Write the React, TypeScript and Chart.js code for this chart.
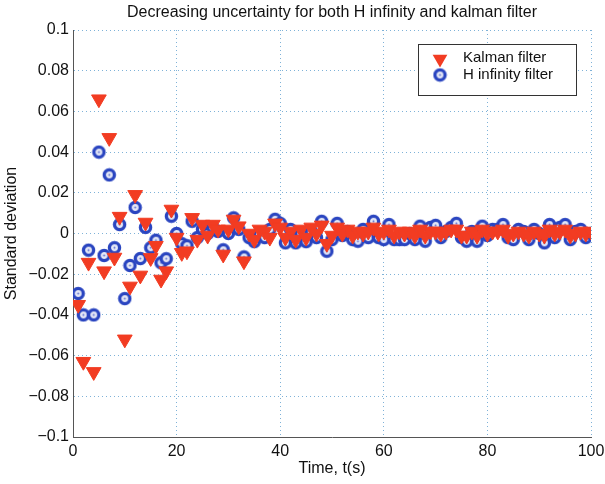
import React, { useEffect, useRef } from "react";
import { Chart, registerables } from "chart.js";
Chart.register(...registerables);

const TITLE = "Decreasing uncertainty for both H infinity and kalman filter";
const X_LABEL = "Time, t(s)";
const Y_LABEL = "Standard deviation";
const LEGEND_LABELS = ["Kalman filter", "H infinity filter"];

const times = [
  1, 2, 3, 4, 5, 6, 7, 8, 9, 10, 11, 12, 13, 14, 15, 16, 17, 18, 19, 20,
  21, 22, 23, 24, 25, 26, 27, 28, 29, 30, 31, 32, 33, 34, 35, 36, 37, 38, 39, 40,
  41, 42, 43, 44, 45, 46, 47, 48, 49, 50, 51, 52, 53, 54, 55, 56, 57, 58, 59, 60,
  61, 62, 63, 64, 65, 66, 67, 68, 69, 70, 71, 72, 73, 74, 75, 76, 77, 78, 79, 80,
  81, 82, 83, 84, 85, 86, 87, 88, 89, 90, 91, 92, 93, 94, 95, 96, 97, 98, 99, 100,
];

const kalman = [
  -0.035, -0.063, -0.0143, -0.068, 0.066, -0.0185, 0.047, -0.0118, 0.0083, -0.052,
  -0.026, 0.019, -0.0206, 0.0054, -0.012, -0.006, -0.0226, -0.0185, 0.0118, -0.002,
  -0.0095, -0.0087, 0.0077, -0.003, 0.0044, -0.001, 0.0044, 0.002, -0.0103, 0.002,
  0.0069, 0.0036, -0.0136, 0.0, -0.003, 0.002, 0.001, -0.002, 0.005, 0.003,
  -0.002, 0.001, -0.003, 0.002, -0.002, 0.003, 0.0, 0.004, -0.005, -0.001,
  0.003, 0.0, 0.002, -0.001, 0.001, 0.0, 0.001, 0.003, 0.0, 0.001,
  0.002, -0.001, 0.001, 0.0, 0.001, -0.001, 0.002, -0.001, 0.001, 0.001,
  0.0, 0.001, 0.002, 0.002, -0.001, -0.001, 0.001, -0.001, 0.002, 0.0,
  0.001, 0.001, 0.002, -0.001, 0.0, 0.001, 0.0, -0.001, 0.001, 0.0,
  -0.001, 0.002, 0.0, 0.001, 0.002, -0.001, 0.0, 0.001, 0.0, 0.001,
];

const hInfinity = [
  -0.0295, -0.04, -0.0082, -0.04, 0.04, -0.0108, 0.0288, -0.007, 0.0044, -0.032,
  -0.0157, 0.0128, -0.0123, 0.003, -0.007, -0.0033, -0.0144, -0.0124, 0.0085, 0.0,
  -0.005, -0.006, 0.006, -0.002, 0.002, 0.0, 0.003, 0.001, -0.008, 0.0,
  0.0077, 0.002, -0.0115, -0.002, -0.004, 0.0, -0.002, 0.002, 0.007, 0.005,
  -0.0046, 0.002, -0.0046, 0.0, -0.004, 0.001, -0.002, 0.006, -0.0087, -0.003,
  0.005, -0.001, 0.001, -0.003, -0.0038, 0.002, -0.002, 0.006, -0.002, -0.003,
  0.0044, -0.003, -0.003, -0.003, 0.0, -0.003, 0.0036, -0.0038, 0.003, 0.004,
  -0.002, 0.001, 0.003, 0.005, -0.002, -0.0038, 0.001, -0.0038, 0.0036, -0.001,
  0.002, 0.002, 0.0044, -0.002, -0.003, 0.002, 0.001, -0.003, 0.002, 0.0,
  -0.0046, 0.0044, -0.002, 0.003, 0.0044, -0.003, 0.001, 0.002, -0.002, 0.0,
];

const RED = "#f23c22";
const BLUE = "#2a45c0";
const FONT = "'Liberation Sans', Arial, Helvetica, sans-serif";
const GRID = "#7fb2d8";

function makeRing(): HTMLCanvasElement {
  const c = document.createElement("canvas");
  c.width = 15;
  c.height = 15;
  const g = c.getContext("2d")!;
  g.beginPath();
  g.arc(7.5, 7.5, 5.1, 0, Math.PI * 2);
  g.fillStyle = "#e4e7f6";
  g.fill();
  g.lineWidth = 3.3;
  g.strokeStyle = BLUE;
  g.stroke();
  g.beginPath();
  g.arc(7.5, 7.5, 1, 0, Math.PI * 2);
  g.fillStyle = "#6072d0";
  g.fill();
  return c;
}

function fmt(v: number): string {
  const r = Math.round(v * 100) / 100;
  return String(r).replace("-", "\u2212");
}

export default function App() {
  const ref = useRef<HTMLCanvasElement | null>(null);

  useEffect(() => {
    if (!ref.current) return;
    const ring = makeRing();

    const overlayPlugin = {
      id: "matlabOverlay",
      afterDraw(chart: any) {
        const ctx = chart.ctx as CanvasRenderingContext2D;
        const area = chart.chartArea;
        ctx.save();
        // title centred over the axes box
        ctx.fillStyle = "#111";
        ctx.font = `16px ${FONT}`;
        ctx.textAlign = "center";
        ctx.textBaseline = "middle";
        ctx.fillText(TITLE, (area.left + area.right) / 2, 13);

        // legend
        const x0 = 418, y0 = 44, w = 158, h = 51;
        ctx.fillStyle = "#ffffff";
        ctx.fillRect(x0, y0, w, h);
        ctx.strokeStyle = "#333";
        ctx.lineWidth = 1;
        ctx.strokeRect(x0 + 0.5, y0 + 0.5, w, h);
        const tx = 440, ty = 59, r = 8.5;
        ctx.beginPath();
        ctx.moveTo(tx - r * 0.866, ty - r * 0.5);
        ctx.lineTo(tx + r * 0.866, ty - r * 0.5);
        ctx.lineTo(tx, ty + r);
        ctx.closePath();
        ctx.fillStyle = RED;
        ctx.fill();
        ctx.drawImage(ring, 440 - 7.5, 75 - 7.5);
        ctx.fillStyle = "#111";
        ctx.font = `15px ${FONT}`;
        ctx.textAlign = "left";
        ctx.fillText(LEGEND_LABELS[0], 463, 58);
        ctx.fillText(LEGEND_LABELS[1], 463, 75);
        ctx.restore();
      },
    };

    const chart = new Chart(ref.current, {
      type: "scatter",
      data: {
        datasets: [
          {
            label: LEGEND_LABELS[0],
            data: times.map((t, i) => ({ x: t, y: kalman[i] })),
            pointStyle: "triangle",
            rotation: 180,
            pointRadius: 8.5,
            backgroundColor: RED,
            borderColor: RED,
            borderWidth: 1,
          },
          {
            label: LEGEND_LABELS[1],
            data: times.map((t, i) => ({ x: t, y: hInfinity[i] })),
            pointStyle: ring as any,
            pointRadius: 7,
            backgroundColor: BLUE,
            borderColor: BLUE,
          },
        ],
      },
      options: {
        animation: false,
        responsive: true,
        maintainAspectRatio: false,
        layout: { padding: { left: 0, right: 14, top: 30, bottom: 0 } },
        plugins: {
          legend: { display: false },
          tooltip: { enabled: false },
          title: { display: false },
        },
        scales: {
          x: {
            type: "linear",
            min: 0,
            max: 100,
            afterFit(scale: any) {
              scale.height = 47;
              scale.paddingLeft = 0;
              scale.paddingRight = 0;
            },
            ticks: {
              stepSize: 20,
              padding: 5,
              color: "#111",
              font: { family: FONT, size: 16 },
              callback: (v: any) => fmt(Number(v)),
            },
            grid: { color: GRID, lineWidth: 1, drawTicks: false },
            border: { display: true, color: "#555", width: 1, dash: [1, 3] },
            title: {
              display: true,
              text: X_LABEL,
              color: "#111",
              font: { family: FONT, size: 16 },
              padding: { top: 0, bottom: 6 },
            },
          },
          y: {
            type: "linear",
            min: -0.1,
            max: 0.1,
            afterFit(scale: any) {
              scale.width = 73;
              scale.paddingTop = 0;
              scale.paddingBottom = 0;
            },
            ticks: {
              stepSize: 0.02,
              padding: 4,
              color: "#111",
              font: { family: FONT, size: 16 },
              callback: (v: any) => fmt(Number(v)),
            },
            grid: { color: GRID, lineWidth: 1, drawTicks: false },
            border: { display: true, color: "#555", width: 1, dash: [1, 3] },
            title: {
              display: true,
              text: Y_LABEL,
              color: "#111",
              font: { family: FONT, size: 16 },
              padding: { top: 2, bottom: 0 },
            },
          },
        },
      },
      plugins: [overlayPlugin],
    } as any);

    return () => chart.destroy();
  }, []);

  return (
    <div style={{ position: "absolute", left: 0, top: 0, width: 605, height: 484, background: "#fff" }}>
      <canvas ref={ref} />
    </div>
  );
}
